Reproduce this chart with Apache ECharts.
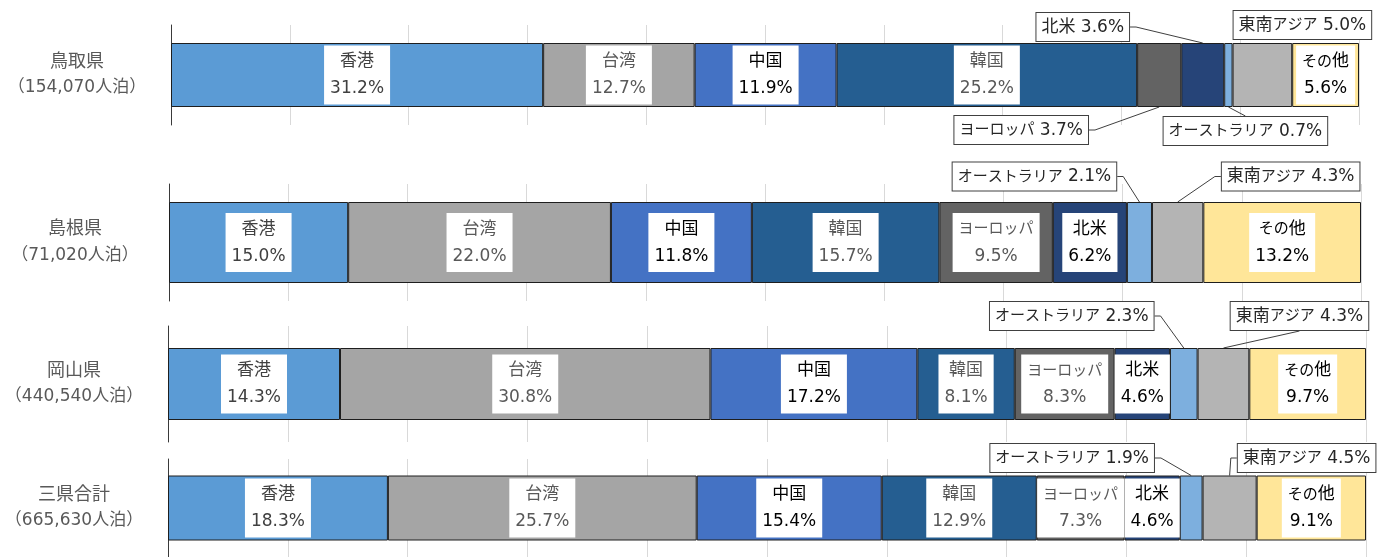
<!DOCTYPE html>
<html>
<head>
<meta charset="utf-8">
<script src="https://cdn.jsdelivr.net/npm/echarts@6/dist/echarts.min.js"></script>
<style>
html,body{margin:0;padding:0;background:#fff;}
#chart{width:1389px;height:557px;}
</style>
</head>
<body>
<div id="chart"></div>
<script>
// ---- data ----
const regions = ['鳥取県', '島根県', '岡山県', '三県合計'];
const guestNights = ['154,070', '71,020', '440,540', '665,630'];
const categories = ['香港', '台湾', '中国', '韓国', 'ヨーロッパ', '北米', 'オーストラリア', '東南アジア', 'その他'];
const tottori = [31.2, 12.7, 11.9, 25.2, 3.7, 3.6, 0.7, 5.0, 5.6];
const shimane = [15.0, 22.0, 11.8, 15.7, 9.5, 6.2, 2.1, 4.3, 13.2];
const okayama = [14.3, 30.8, 17.2, 8.1, 8.3, 4.6, 2.3, 4.3, 9.7];
const sankenTotal = [18.3, 25.7, 15.4, 12.9, 7.3, 4.6, 1.9, 4.5, 9.1];
const rows = [tottori, shimane, okayama, sankenTotal];

// ---- styles / layout ----
const colors = ['#5B9BD5', '#A5A5A5', '#4472C4', '#255E91', '#636363', '#264478', '#7DAFDE', '#B4B4B4', '#FFE699'];
const textColors = ['#404040', '#595959', '#000000', '#595959', '#595959', '#000000', '#404040', '#404040', '#000000'];
const FONT = "'DejaVu Sans', 'Noto Sans CJK JP', sans-serif";
const SIZE = {kanji: 17, kana: 15, val: 17};
const grids = [
  {left: 171, right: 30, top: 25, height: 100, barWidth: 64},
  {left: 169, right: 28, top: 184, height: 117, barWidth: 81},
  {left: 168, right: 23, top: 326, height: 116, barWidth: 72},
  {left: 168, right: 23, top: 459, height: 103, barWidth: 65}
];
// callout label offsets (panel -> category index -> [dx, dy, connector anchor side])
const callouts = [
  {4: [-138, 55, 'r'], 5: [-120, -48, 'r'], 6: [17, 56, 't'], 7: [40, -50, 'none']},
  {6: [-105, -66, 'r'], 7: [113, -66, 'l']},
  {6: [-112, -68, 'r'], 7: [76, -68, 'b']},
  {6: [-119, -50, 'r'], 7: [77, -50, 'l']}
];

const KANA = /[\u3040-\u30FF]/;
function runs(s) {
  return s.match(/[\u3040-\u30FF]+|[^\u3040-\u30FF]+/g).map(r => ({style: KANA.test(r) ? 'kana' : 'kanji', text: r}));
}
function richName(s) {
  return runs(s).map(r => '{' + r.style + '|' + r.text + '}').join('');
}
function fmtVal(v) { return Number(v).toFixed(1) + '%'; }
function richStyles(lh) {
  return {
    kanji: {fontSize: SIZE.kanji, lineHeight: lh, fontFamily: FONT},
    kana: {fontSize: SIZE.kana, lineHeight: lh, fontFamily: FONT},
    val: {fontSize: SIZE.val, lineHeight: lh, fontFamily: FONT}
  };
}

const option = {
  animation: false,
  backgroundColor: '#ffffff',
  grid: [],
  xAxis: [],
  yAxis: [],
  series: []
};

rows.forEach((row, p) => {
  const g = grids[p];
  const total = Math.round(row.reduce((a, b) => a + b, 0) * 10) / 10;
  option.grid.push({left: g.left, right: g.right, top: g.top, height: g.height, containLabel: false});
  option.xAxis.push({
    type: 'value', gridIndex: p, min: 0, max: total, interval: total / 10,
    axisLabel: {show: false}, axisTick: {show: false}, axisLine: {show: false},
    splitLine: {show: true, lineStyle: {color: '#D9D9D9', width: 1}}
  });
  option.yAxis.push({
    type: 'category', gridIndex: p, data: [regions[p]],
    axisTick: {show: false},
    axisLine: {show: true, lineStyle: {color: '#3a3a3a', width: 1}},
    axisLabel: {
      margin: 94, align: 'center', color: '#595959', fontFamily: FONT,
      formatter: (v) => '{r|' + v + '}\n{t|（' + guestNights[p] + '人泊）}',
      rich: {
        r: {fontSize: 18, lineHeight: 26, fontFamily: FONT, color: '#595959'},
        t: {fontSize: 17, lineHeight: 26, fontFamily: FONT, color: '#595959'}
      }
    }
  });
  categories.forEach((cat, c) => {
    const co = callouts[p][c];
    const s = {
      type: 'bar', name: cat, xAxisIndex: p, yAxisIndex: p, stack: 'panel' + p,
      barWidth: g.barWidth,
      data: [row[c]],
      itemStyle: {color: colors[c], borderColor: '#1e1e1e', borderWidth: 1},
      emphasis: {disabled: true},
      z: 2
    };
    if (co) {
      s.label = {
        show: true, position: 'inside', fontFamily: FONT, fontSize: SIZE.val, lineHeight: 21,
        color: '#262626', backgroundColor: '#ffffff', borderColor: '#404040', borderWidth: 1,
        padding: [4, 5, 3, 5],
        formatter: (pr) => richName(pr.seriesName) + '{val| ' + fmtVal(pr.value) + '}',
        rich: richStyles(21)
      };
      s.labelLayout = {dx: co[0], dy: co[1]};
    } else {
      s.label = {
        show: true, position: 'inside', fontFamily: FONT, fontSize: SIZE.val, lineHeight: 27,
        color: textColors[c], backgroundColor: '#ffffff', padding: [3, 6, 2, 6],
        formatter: (pr) => richName(pr.seriesName) + '\n{val|' + fmtVal(pr.value) + '}',
        rich: richStyles(27)
      };
    }
    option.series.push(s);
  });
});

const chart = echarts.init(document.getElementById('chart'), null, {renderer: 'canvas'});
chart.setOption(option);

// ---- connector lines for outside labels ----
(function drawConnectors() {
  const ctx = document.createElement('canvas').getContext('2d');
  function textWidth(name, val) {
    let w = 0;
    runs(name).forEach(r => { ctx.font = SIZE[r.style] + 'px ' + FONT; w += ctx.measureText(r.text).width; });
    ctx.font = SIZE.val + 'px ' + FONT;
    w += ctx.measureText(' ' + val).width;
    return w;
  }
  const elements = [];
  rows.forEach((row, p) => {
    const cfg = callouts[p];
    Object.keys(cfg).forEach(k => {
      const c = +k;
      const [dx, dy, anchor] = cfg[k];
      if (anchor === 'none') return;
      let cum = 0;
      for (let i = 0; i < c; i++) cum += row[i];
      const mid = cum + row[c] / 2;
      const pt = chart.convertToPixel({xAxisIndex: p, yAxisIndex: p}, [mid, 0]);
      const half = grids[p].barWidth / 2;
      const segX = pt[0];
      const segY = dy < 0 ? pt[1] - half : pt[1] + half;
      const cx = segX + dx, cy = pt[1] + dy;
      const w = textWidth(categories[c], fmtVal(row[c])) + 12;
      const h = 30;
      let pts;
      if (anchor === 'r') pts = [[cx + w / 2, cy], [cx + w / 2 + 6, cy], [segX, segY]];
      else if (anchor === 'l') pts = [[cx - w / 2, cy], [cx - w / 2 - 6, cy], [segX, segY]];
      else if (anchor === 'b') pts = [[cx, cy + h / 2], [segX, segY]];
      else pts = [[cx, cy - h / 2], [segX, segY]];
      elements.push({
        type: 'polyline', z: 1, silent: true,
        shape: {points: pts},
        style: {stroke: '#404040', lineWidth: 1, fill: null}
      });
    });
  });
  chart.setOption({graphic: elements});
})();
</script>
</body>
</html>
